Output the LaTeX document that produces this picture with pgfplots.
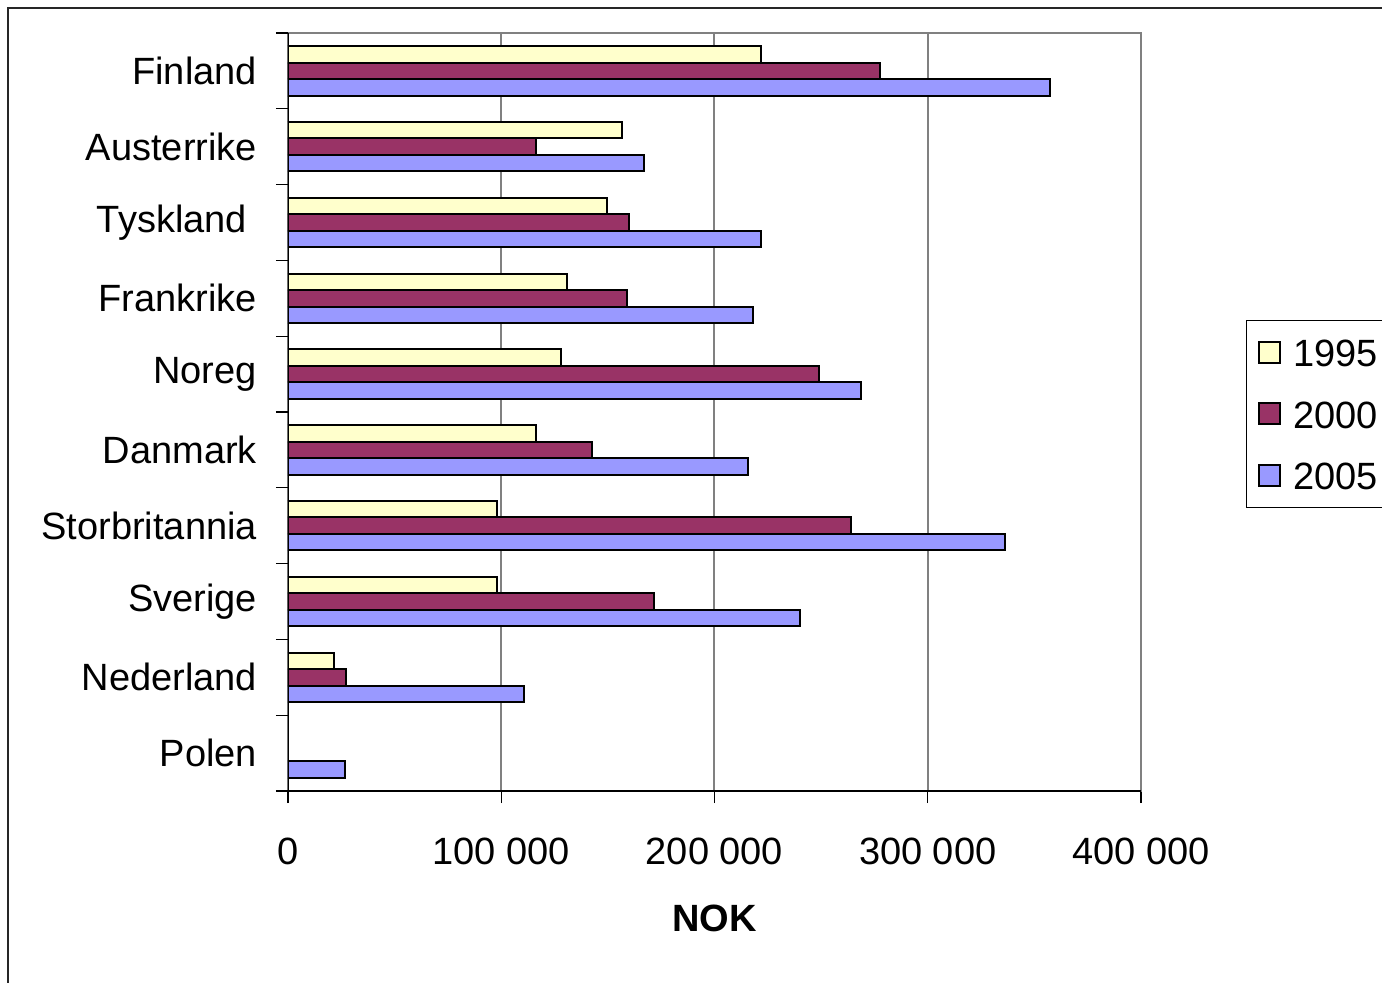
\documentclass[border=0pt]{standalone}
\usepackage{pgfplots}
\pgfplotsset{compat=1.18}
\usepackage{fontspec}
\setmainfont{Liberation Sans}
\definecolor{c95}{HTML}{FFFFCC}
\definecolor{c00}{HTML}{993366}
\definecolor{c05}{HTML}{9999FF}
\definecolor{gridgray}{HTML}{808080}
\begin{document}
\begin{tikzpicture}
\useasboundingbox (0,0) rectangle (691pt,-491pt);
\draw[line width=1pt, black!85] (4pt,-700pt) -- (4pt,-4pt) -- (900pt,-4pt);
\begin{axis}[
  at={(144pt,-395.5pt)}, anchor=south west,
  scale only axis, width=426.5pt, height=379pt,
  xbar, bar width=8.25pt,
  xmin=0, xmax=400000, ymin=-0.5, ymax=9.5,
  scaled x ticks=false,
  axis line style={gridgray, line width=1pt},
  xtick={0,100000,200000,300000,400000},
  xticklabels={0,100 000,200 000,300 000,400 000},
  xtick pos=bottom, ytick pos=left,
  ytick={0,...,9},
  yticklabels={Polen,Nederland,Sverige,Storbritannia,Danmark,Noreg,Frankrike,\mbox{Tyskland\kern5pt\null},Austerrike,Finland},
  ytick style={draw=none},
  extra y ticks={-0.5,0.5,1.5,2.5,3.5,4.5,5.5,6.5,7.5,8.5,9.5},
  extra y tick labels={},
  extra y tick style={ytick style={draw=black, line width=0.6pt}, tick align=outside, major tick length=6pt, ytick pos=left},
  tick align=outside, major tick length=6pt,
  xtick style={draw=black, line width=0.6pt},
  xmajorgrids, grid style={gridgray, line width=1pt},
  tick label style={font=\fontsize{19}{23}\selectfont},
  yticklabel style={xshift=-6pt},
  xticklabel style={yshift=-14pt},
  xlabel={\textbf{NOK}},
  xlabel style={at={(axis description cs:0.5,0)}, anchor=center, yshift=-63.5pt, font=\fontsize{19}{23}\selectfont},
  legend style={at={(axis description cs:1.1231,0.6214)}, anchor=north west,
    draw=black, line width=0.5pt, font=\fontsize{19}{23}\selectfont,
    inner xsep=6pt, inner ysep=7pt, row sep=12.75pt, column sep=4pt,
    nodes={text height=14pt, text depth=0pt, inner sep=2pt}},
  legend cell align=left,
  legend image code/.code={\draw[#1, line width=1pt] (0pt,-5.25pt) rectangle (10.5pt,5.25pt);},
]
\addplot[fill=c95, draw=black, line width=1pt, bar shift=8.25pt] coordinates {
  (222000,9) (156500,8) (149500,7) (131000,6) (128000,5) (116500,4) (98000,3) (98000,2) (21500,1)};
\addplot[fill=c00, draw=black, line width=1pt, bar shift=0pt] coordinates {
  (277500,9) (116500,8) (160000,7) (159000,6) (249000,5) (142500,4) (264000,3) (171500,2) (27000,1)};
\addplot[fill=c05, draw=black, line width=1pt, bar shift=-8.25pt] coordinates {
  (357500,9) (167000,8) (222000,7) (218000,6) (268500,5) (215500,4) (336000,3) (240000,2) (110500,1) (26500,0)};
\legend{1995,2000,2005}
\draw[black, line width=1pt] (rel axis cs:0,1) -- (rel axis cs:0,0) -- (rel axis cs:1,0);
\end{axis}
\end{tikzpicture}
\end{document}
